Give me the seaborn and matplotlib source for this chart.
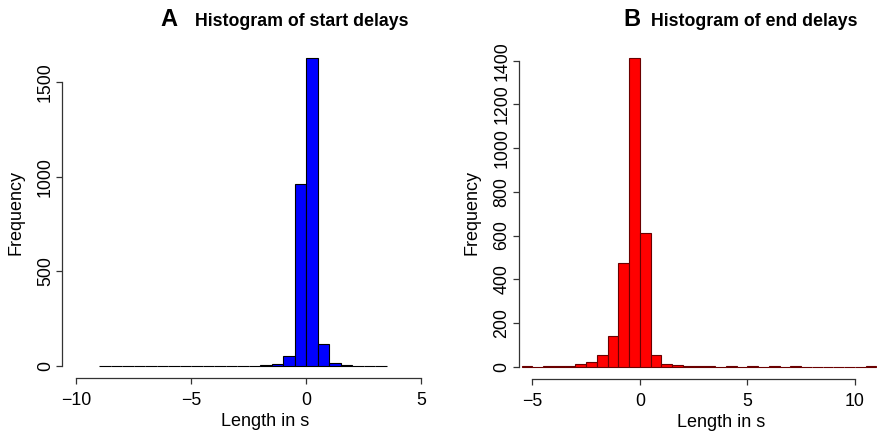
import numpy as np
import pandas as pd
import matplotlib
matplotlib.use("Agg")
import matplotlib.pyplot as plt
import seaborn as sns

# ---- data (bin counts) ----
start_range = (-9.0, 3.5)
start_counts = [1, 0, 0, 1, 1, 0, 0, 1, 0, 1, 1, 2, 1, 2, 3, 12, 55, 960, 1625, 116, 17, 4, 1, 1, 1]

end_range = (-5.5, 11.0)
end_counts = [1, 0, 1, 3, 2, 12, 23, 53, 140, 473,
              1411, 613, 53, 12, 6, 4, 2, 1, 0, 1,
              0, 1, 0, 1, 0, 1, 0, 0, 0, 0,
              0, 0, 1]
bin_width = 0.5

start_xticks = [-10, -5, 0, 5]
start_yticks = [0, 500, 1000, 1500]
end_xticks = [-5, 0, 5, 10]
end_yticks = [0, 200, 400, 600, 800, 1000, 1200, 1400]

sns.set_style("white")
plt.rcParams['font.family'] = ['Liberation Sans', 'DejaVu Sans']
plt.rcParams['text.color'] = 'black'
plt.rcParams['axes.labelcolor'] = 'black'
plt.rcParams['xtick.color'] = 'black'
plt.rcParams['ytick.color'] = 'black'

W, H = 877, 434
fig = plt.figure(figsize=(W / 100, H / 100), dpi=100)

def px_axes(x0, x1, ytop, ybot):
    return fig.add_axes([x0 / W, (H - ybot) / H, (x1 - x0) / W, (ybot - ytop) / H])

ax1 = px_axes(62.2, 434.8, 46.1, 378.3)
ax2 = px_axes(518.7, 890.2, 45.9, 379.0)

def draw(ax, rng, counts, fill, edge, xlim, ylim, xticks, yticks):
    centers = rng[0] + bin_width * (np.arange(len(counts)) + 0.5)
    df = pd.DataFrame({'x': centers, 'n': counts})
    sns.histplot(data=df, x='x', weights='n', binwidth=bin_width, binrange=rng,
                 color=fill, edgecolor=edge, linewidth=0.8, alpha=1.0, ax=ax)
    ax.set_xlim(*xlim)
    ax.set_ylim(*ylim)
    ax.set_xticks(xticks)
    ax.set_yticks(yticks)
    ax.set_xticklabels([str(t).replace('-', '\u2212') for t in xticks])
    ax.set_yticklabels([str(t) for t in yticks], rotation=90, va='center')
    for s in ['top', 'right']:
        ax.spines[s].set_visible(False)
    ax.spines['bottom'].set_bounds(xticks[0], xticks[-1])
    ax.spines['left'].set_bounds(yticks[0], yticks[-1])
    for s in ['bottom', 'left']:
        ax.spines[s].set_linewidth(0.9)
        ax.spines[s].set_color('#333333')
    ax.tick_params(axis='both', direction='out', length=4.5, width=0.9,
                   color='#333333', labelcolor='black', labelsize=12.8,
                   bottom=True, left=True)
    ax.tick_params(axis='x', pad=5.5)
    ax.tick_params(axis='y', pad=1.5)
    ax.set_xlabel('Length in s', fontsize=13, labelpad=2, color='black')
    ax.xaxis.set_label_coords(0.544, -0.105)
    ax.set_ylabel('Frequency', fontsize=13, labelpad=9, color='black')

def lim(lo, hi):
    d = (hi - lo) * 0.04
    return (lo - d, hi + d)

draw(ax1, start_range, start_counts, '#0000ff', 'black', lim(-10, 5),
     lim(0, max(start_counts)), start_xticks, start_yticks)
draw(ax2, end_range, end_counts, '#ff0000', '#6a0000', lim(-5, 11),
     lim(0, max(end_counts)), end_xticks, end_yticks)

fig.text(169 / W, 1 - 20 / H, 'A', fontsize=17, fontweight='bold', ha='center', va='center')
fig.text(195 / W, 1 - 21 / H, 'Histogram of start delays', fontsize=12.8,
         fontweight='bold', ha='left', va='center')
fig.text(632 / W, 1 - 20 / H, 'B', fontsize=17, fontweight='bold', ha='center', va='center')
fig.text(651 / W, 1 - 21 / H, 'Histogram of end delays', fontsize=12.8,
         fontweight='bold', ha='left', va='center')

fig.savefig('out.png', dpi=100)
